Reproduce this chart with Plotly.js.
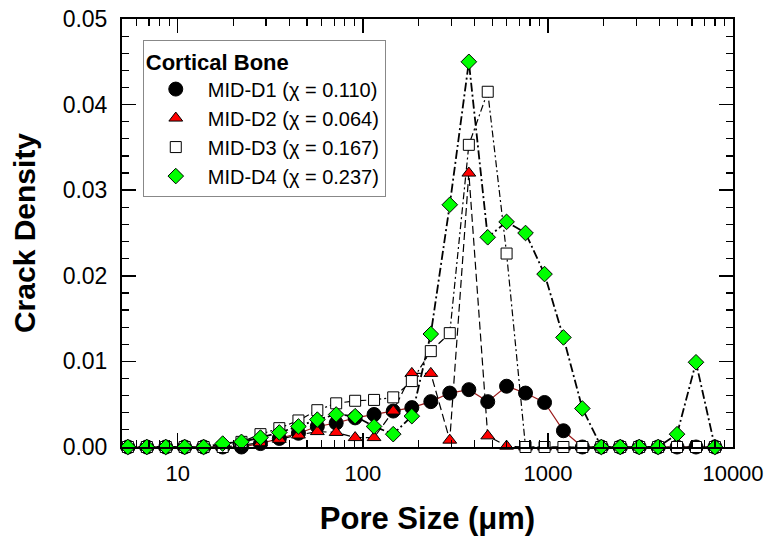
<!DOCTYPE html>
<html>
<head>
<meta charset="utf-8">
<script src="https://cdn.plot.ly/plotly-3.0.1.min.js"></script>
<style>
  html, body { margin: 0; padding: 0; background: #fff; }
  #chart { width: 771px; height: 547px; }
</style>
</head>
<body>
<div id="chart"></div>
<script>
// Pore size bins (µm)
const poreSize = [5.38, 6.81, 8.62, 10.9, 13.8, 17.5, 22.1, 28.0, 35.4, 44.9, 56.8, 71.8, 90.9, 115, 146, 184,
                  233, 295, 374, 473, 598, 757, 959, 1213, 1535, 1943, 2459, 3112, 3939, 4985, 6310, 7986];

const seriesNames = ["MID-D1 (\u03C7 = 0.110)", "MID-D2 (\u03C7 = 0.064)", "MID-D3 (\u03C7 = 0.167)", "MID-D4 (\u03C7 = 0.237)"];

const midD1 = [0, 0, 0, 0, 0, 0, 0, 0.0004, 0.0010, 0.0016, 0.0024, 0.0028, 0.0034, 0.0038, 0.0042, 0.0046,
               0.0053, 0.0063, 0.0067, 0.0053, 0.0071, 0.0063, 0.0052, 0.0019, 0, 0, 0, 0, 0, 0, 0, 0];
const midD2 = [0, 0, 0, 0, 0, 0, 0.0002, 0.0005, 0.0009, 0.0014, 0.0018, 0.0017, 0.0011, 0.0011, 0.0042, 0.0086,
               0.0086, 0.0008, 0.0320, 0.0013, 0.0001, 0, 0, 0, 0, 0, 0, 0, 0, 0, 0, 0];
const midD3 = [0, 0, 0, 0, 0, 0, 0.0006, 0.0015, 0.0022, 0.0031, 0.0043, 0.0051, 0.0054, 0.0055, 0.0058, 0.0077,
               0.0112, 0.0133, 0.0353, 0.0415, 0.0226, 0, 0, 0, 0, 0, 0, 0, 0, 0, 0, 0];
const midD4 = [0, 0, 0, 0, 0, 0.0004, 0.0006, 0.0011, 0.0017, 0.0024, 0.0032, 0.0038, 0.0036, 0.0024, 0.0015, 0.0036,
               0.0132, 0.0283, 0.0450, 0.0245, 0.0263, 0.0250, 0.0202, 0.0128, 0.0045, 0, 0, 0, 0, 0.0015, 0.0099, 0];

const xTickVals = [10, 100, 1000, 10000];
const xTickText = ["10", "100", "1000", "10000"];

// minor log ticks
const xMinor = [];
[1, 10, 100, 1000].forEach(d => { for (let k = 2; k <= 9; k++) { if (d * k >= 5) xMinor.push(d * k); } });

const FONT = "Liberation Sans, Arial, sans-serif";

const values = [midD1, midD2, midD3, midD4];
const lineStyles = [
  {color: "#9B1B1B", width: 1.2, dash: "solid"},
  {color: "#000000", width: 1.2, dash: "8px,4px"},
  {color: "#000000", width: 1.2, dash: "7px,3px,2px,3px"},
  {color: "#000000", width: 1.8, dash: "9px,3px,2px,3px"}
];
const markerStyles = [
  {symbol: "circle", size: 14, color: "#000000", line: {color: "#000000", width: 1}},
  {symbol: "triangle-up", size: 12, color: "#FF0000", line: {color: "#000000", width: 1}},
  {symbol: "square", size: 11, color: "#FFFFFF", line: {color: "#000000", width: 1}},
  {symbol: "diamond", size: 12, color: "#00FF00", line: {color: "#000000", width: 1}}
];

const traces = [];
values.forEach((v, i) => {
  traces.push({
    x: poreSize, y: v, type: "scatter", mode: "lines",
    line: lineStyles[i], showlegend: false, hoverinfo: "skip", cliponaxis: false
  });
});
values.forEach((v, i) => {
  traces.push({
    x: poreSize, y: v, type: "scatter", mode: "markers",
    name: seriesNames[i], marker: markerStyles[i], cliponaxis: false
  });
});

const layout = {
  width: 771, height: 547,
  margin: {l: 122, r: 38, t: 19, b: 99.5, pad: 0},
  paper_bgcolor: "#ffffff", plot_bgcolor: "#ffffff",
  font: {family: FONT, color: "#000", size: 22},
  showlegend: true,
  legend: {
    x: 0.034, y: 0.951, xanchor: "left", yanchor: "top",
    bgcolor: "#ffffff", bordercolor: "#888888", borderwidth: 1,
    font: {family: FONT, size: 20, color: "#000"},
    title: {text: "Cortical Bone", font: {family: FONT, size: 22, weight: "bold", color: "#000"}},
    itemwidth: 54, tracegroupgap: 0
  },
  xaxis: {
    type: "log", range: [Math.log10(5), 4],
    tickmode: "array", tickvals: xTickVals, ticktext: xTickText,
    ticks: "inside", ticklen: 14, tickwidth: 1.5, tickcolor: "#000",
    minor: {tickmode: "array", tickvals: xMinor, ticks: "inside", ticklen: 7, tickwidth: 1.2, tickcolor: "#000"},
    showline: true, linecolor: "#000", linewidth: 2, mirror: "ticks",
    showgrid: false, zeroline: false,
    tickfont: {family: FONT, size: 22, color: "#000"},
    ticklabelstandoff: 6,
    title: {text: "Pore Size (\u03BCm)", font: {family: FONT, size: 31, weight: "bold", color: "#000"}, standoff: 22}
  },
  yaxis: {
    range: [0, 0.05], dtick: 0.01, tick0: 0, tickformat: ".2f",
    ticks: "inside", ticklen: 14, tickwidth: 1.5, tickcolor: "#000",
    minor: {dtick: 0.002, ticks: "inside", ticklen: 7, tickwidth: 1.2, tickcolor: "#000"},
    showline: true, linecolor: "#000", linewidth: 2, mirror: "ticks",
    showgrid: false, zeroline: false,
    tickfont: {family: FONT, size: 23, color: "#000"},
    ticklabelstandoff: 8,
    title: {text: "Crack Density", font: {family: FONT, size: 30, weight: "bold", color: "#000"}, standoff: 18}
  }
};

Plotly.newPlot("chart", traces, layout, {displayModeBar: false, staticPlot: true});
</script>
</body>
</html>
